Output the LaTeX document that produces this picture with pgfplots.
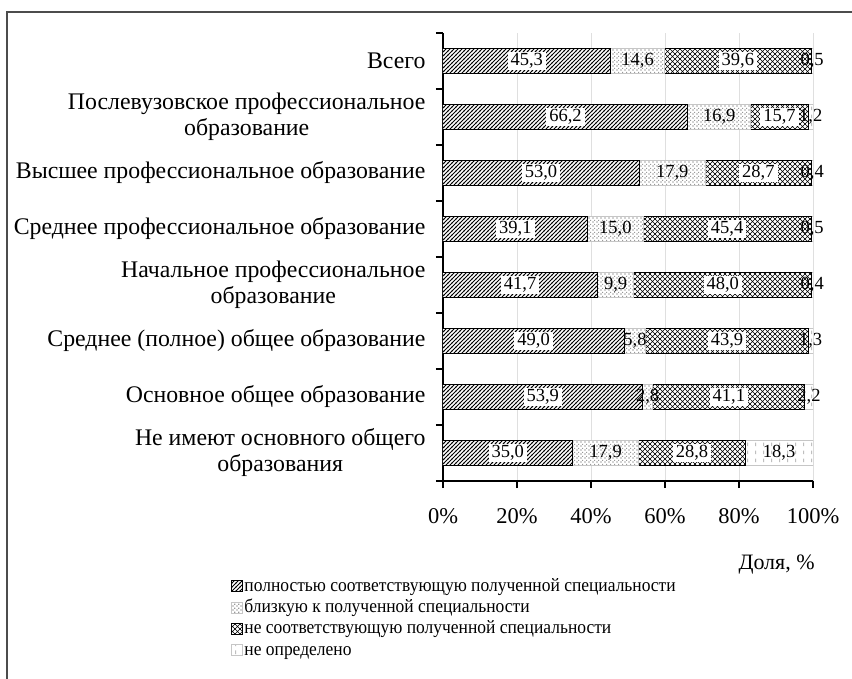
\documentclass[border=0pt]{standalone}
\usepackage{fontspec}
\setmainfont{Liberation Serif}
\newfontfamily\legfont{Liberation Serif}[FakeStretch=0.92]
\usepackage{pgfplots}
\pgfplotsset{compat=1.18}
\usepackage{pgfplotstable}
\usetikzlibrary{patterns}

\pgfdeclarepatternformonly{hatchA}{\pgfqpoint{-1pt}{-1pt}}{\pgfqpoint{5pt}{5pt}}{\pgfqpoint{4pt}{4pt}}{%
  \pgfsetlinewidth{0.9pt}%
  \pgfpathmoveto{\pgfqpoint{-0.5pt}{-0.5pt}}\pgfpathlineto{\pgfqpoint{4.5pt}{4.5pt}}%
  \pgfusepath{stroke}}
\pgfdeclarepatternformonly{diagcross}{\pgfqpoint{-1pt}{-1pt}}{\pgfqpoint{6pt}{6pt}}{\pgfqpoint{5pt}{5pt}}{%
  \pgfsetlinewidth{0.65pt}%
  \pgfpathmoveto{\pgfqpoint{-0.5pt}{-0.5pt}}\pgfpathlineto{\pgfqpoint{5.5pt}{5.5pt}}%
  \pgfpathmoveto{\pgfqpoint{-0.5pt}{5.5pt}}\pgfpathlineto{\pgfqpoint{5.5pt}{-0.5pt}}%
  \pgfusepath{stroke}}
\pgfdeclarepatternformonly{dotsB}{\pgfqpoint{0pt}{0pt}}{\pgfqpoint{4pt}{4pt}}{\pgfqpoint{4pt}{4pt}}{%
  \pgfpathrectangle{\pgfqpoint{0.5pt}{0.5pt}}{\pgfqpoint{1.4pt}{1.4pt}}%
  \pgfpathrectangle{\pgfqpoint{2.5pt}{2.5pt}}{\pgfqpoint{1.4pt}{1.4pt}}%
  \pgfusepath{fill}}
\pgfdeclarepatternformonly{vdash}{\pgfqpoint{0pt}{0pt}}{\pgfqpoint{8pt}{8pt}}{\pgfqpoint{8pt}{8pt}}{%
  \pgfsetlinewidth{1pt}%
  \pgfpathmoveto{\pgfqpoint{4pt}{1pt}}\pgfpathlineto{\pgfqpoint{4pt}{5pt}}%
  \pgfusepath{stroke}}

\pgfplotstableread{
y a b c d
7 45.3 14.6 39.6 0.5
6 66.2 16.9 15.7 1.2
5 53.0 17.9 28.7 0.4
4 39.1 15.0 45.4 0.5
3 41.7 9.9 48.0 0.4
2 49.0 5.8 43.9 1.3
1 53.9 2.8 41.1 2.2
0 35.0 17.9 28.8 18.3
}\data

\begin{document}
\begin{tikzpicture}[x=1pt,y=1pt]
\path[use as bounding box] (0,0) rectangle (852,-679);
\draw[line width=1.5pt, black!70] (7,-679) -- (7,-12) -- (852,-12);
\pgfplotsset{every axis/.append style={
  at={(443pt,-481pt)}, anchor=south west,
  scale only axis, width=370pt, height=448pt,
  xmin=0, xmax=100, ymin=-0.5, ymax=7.5,
  /pgf/number format/assume math mode=true,
  font=\fontsize{18}{21}\selectfont}}
\begin{axis}[
  xbar stacked, bar width=25pt,
  axis lines*=left,
  axis line style={line width=1.5pt, black},
  xtick={0,20,...,100},
  xticklabel={\pgfmathprintnumber{\tick}\%},
  xticklabel style={yshift=-17pt, font=\fontsize{22.5}{26}\selectfont},
  xmajorgrids, grid style={gray!25, line width=0.8pt},
  tick align=outside, major tick length=7pt,
  tick style={line width=1.3pt, black},
  ytick={-0.5,0.5,...,7.5}, yticklabels={},
  extra y ticks={0,...,7},
  extra y tick labels={{Не имеют основного общего\\образования},
    Основное общее образование,
    Среднее (полное) общее образование,
    {Начальное профессиональное\\образование},
    Среднее профессиональное образование,
    Высшее профессиональное образование,
    {Послевузовское профессиональное\\образование},
    Всего},
  extra y tick style={major tick length=0pt, yticklabel style={align=center, xshift=-14pt, font=\fontsize{23.8}{26}\selectfont}},
  xlabel={Доля, \%},
  xlabel style={at={(axis description cs:1.005,-0.1875)}, anchor=east, inner sep=0pt, font=\fontsize{22}{26}\selectfont},
  legend style={draw=none, at={(axis description cs:-0.581,-0.207)}, anchor=north west,
    legend cell align=left, row sep=0pt, font=\legfont\fontsize{19}{21}\selectfont,
    nodes={inner sep=1.2pt, text height=14pt, text depth=5pt}},
  legend image code/.code={\draw[#1] (0pt,-5pt) rectangle (11pt,6pt);},
]
\addplot[draw=black, line width=1pt, preaction={fill=white}, pattern=hatchA] table[x=a,y=y]{\data};
\addlegendentry{полностью соответствующую полученной специальности}
\addplot[draw=gray!45, line width=1pt, preaction={fill=white}, pattern=dotsB, pattern color=gray!80] table[x=b,y=y]{\data};
\addlegendentry{близкую к полученной специальности}
\addplot[draw=black, line width=1pt, preaction={fill=white}, pattern=diagcross] table[x=c,y=y]{\data};
\addlegendentry{не соответствующую полученной специальности}
\addplot[draw=gray!45, line width=1pt, preaction={fill=white}, pattern=vdash, pattern color=gray!50] table[x=d,y=y]{\data};
\addlegendentry{не определено}
\end{axis}
\begin{axis}[hide axis,
  nodes near coords={\pgfmathprintnumber[fixed,fixed zerofill,precision=1,use comma]{\pgfplotspointmeta}},
  point meta=explicit]
\addplot[draw=none, mark=none, every node near coord/.style={anchor=center, fill=white, inner xsep=3pt, inner ysep=1pt, font=\fontsize{18.5}{21}\selectfont}]
  table[x expr=\thisrow{a}/2, y=y, meta=a]{\data};
\addplot[draw=none, mark=none, every node near coord/.style={anchor=center, inner sep=1pt, font=\fontsize{18.5}{21}\selectfont}]
  table[x expr=\thisrow{a}+\thisrow{b}/2, y=y, meta=b]{\data};
\addplot[draw=none, mark=none, every node near coord/.style={anchor=center, fill=white, inner xsep=3pt, inner ysep=1pt, font=\fontsize{18.5}{21}\selectfont}]
  table[x expr=\thisrow{a}+\thisrow{b}+\thisrow{c}/2, y=y, meta=c]{\data};
\addplot[draw=none, mark=none, every node near coord/.style={anchor=center, inner sep=1pt, font=\fontsize{18.5}{21}\selectfont}]
  table[x expr=\thisrow{a}+\thisrow{b}+\thisrow{c}+\thisrow{d}/2, y=y, meta=d]{\data};
\end{axis}
\end{tikzpicture}
\end{document}
